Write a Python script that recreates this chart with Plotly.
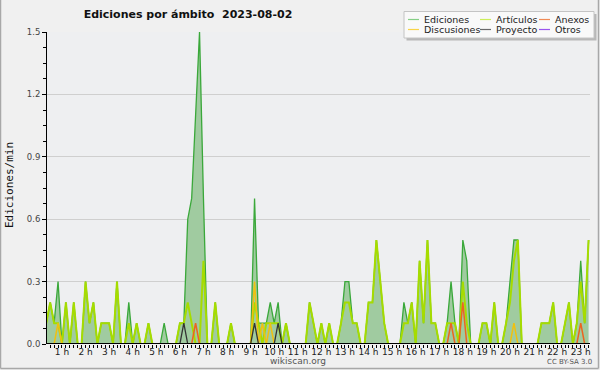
import plotly.graph_objects as go

# ---------------- data (edits per minute, 10-minute slots, 2023-08-02) ----------------
# visible slots: 00:20 ... 23:20
slot_minutes = list(range(20, 1401, 10))

ediciones = [
    0.1, 0.2, 0.1, 0.3, 0, 0.2, 0, 0.2, 0, 0,          # 00:20-01:50
    0.3, 0.1, 0.2, 0, 0.1, 0.1, 0.1, 0, 0.3, 0,        # 02:00-03:30
    0, 0.2, 0, 0.1, 0, 0, 0.1, 0, 0, 0,                # 03:40-05:10
    0.1, 0, 0, 0, 0.1, 0.1, 0.6, 0.7, 1.1, 1.5,        # 05:20-06:50
    0.7, 0, 0, 0.2, 0, 0, 0, 0.1, 0, 0,                # 07:00-08:30
    0, 0, 0, 0.7, 0.1, 0.1, 0.1, 0.2, 0.1, 0.2,        # 08:40-10:10
    0, 0.1, 0, 0, 0, 0, 0, 0.2, 0.1, 0,                # 10:20-11:50
    0.1, 0, 0.1, 0, 0, 0.1, 0.3, 0.3, 0.1, 0.1,        # 12:00-13:30
    0, 0, 0.2, 0.2, 0.5, 0.3, 0.1, 0, 0, 0,            # 13:40-15:10
    0, 0.2, 0.1, 0.2, 0, 0.4, 0.1, 0.5, 0.1, 0.1,      # 15:20-16:50
    0, 0, 0.1, 0.3, 0.1, 0, 0.5, 0.4, 0, 0,            # 17:00-18:30
    0, 0.1, 0.1, 0, 0.2, 0, 0, 0.1, 0.3, 0.5,          # 18:40-20:10
    0.5, 0, 0, 0, 0, 0, 0.1, 0.1, 0.1, 0.2,            # 20:20-21:50
    0, 0, 0.1, 0.2, 0, 0.1, 0.4, 0.1, 0.5,             # 22:00-23:20
]
articulos = [
    0.1, 0.2, 0.1, 0.1, 0, 0.2, 0, 0.2, 0, 0,
    0.3, 0.1, 0.2, 0, 0.1, 0.1, 0.1, 0, 0.3, 0,
    0, 0.1, 0, 0.1, 0, 0, 0.1, 0, 0, 0,
    0, 0, 0, 0, 0.1, 0.1, 0.2, 0.1, 0, 0,
    0.4, 0, 0, 0.2, 0, 0, 0, 0.1, 0, 0,
    0, 0, 0, 0.2, 0.1, 0, 0.1, 0.1, 0.1, 0.1,
    0, 0.1, 0, 0, 0, 0, 0, 0.2, 0.1, 0,
    0.1, 0, 0.1, 0, 0, 0.1, 0.2, 0.2, 0.1, 0.1,
    0, 0, 0.2, 0.2, 0.5, 0.3, 0.1, 0, 0, 0,
    0, 0.1, 0.1, 0.2, 0, 0.4, 0.1, 0.5, 0.1, 0.1,
    0, 0, 0.1, 0.1, 0.1, 0, 0.3, 0.1, 0, 0,
    0, 0.1, 0.1, 0, 0.2, 0, 0, 0.1, 0.2, 0.4,
    0.5, 0, 0, 0, 0, 0, 0.1, 0.1, 0.1, 0.2,
    0, 0, 0.1, 0.2, 0, 0.1, 0.3, 0.1, 0.5,
]
discusiones = [
    0, 0, 0, 0.1, 0, 0, 0, 0, 0, 0,
    0, 0, 0, 0, 0, 0, 0, 0, 0, 0,
    0, 0, 0, 0, 0, 0, 0, 0, 0, 0,
    0, 0, 0, 0, 0, 0, 0, 0, 0, 0,
    0, 0, 0, 0, 0, 0, 0, 0, 0, 0,
    0, 0, 0, 0.3, 0, 0.1, 0, 0.1, 0, 0,
    0, 0, 0, 0, 0, 0, 0, 0, 0, 0,
    0, 0, 0, 0, 0, 0, 0, 0, 0, 0,
    0, 0, 0, 0, 0, 0, 0, 0, 0, 0,
    0, 0, 0, 0, 0, 0, 0, 0, 0, 0,
    0, 0, 0, 0, 0, 0, 0, 0, 0, 0,
    0, 0, 0, 0, 0, 0, 0, 0, 0, 0.1,
    0, 0, 0, 0, 0, 0, 0, 0, 0, 0,
    0, 0, 0, 0, 0, 0, 0, 0, 0,
]
anexos = [
    0, 0, 0, 0, 0, 0, 0, 0, 0, 0,
    0, 0, 0, 0, 0, 0, 0, 0, 0, 0,
    0, 0, 0, 0, 0, 0, 0, 0, 0, 0,
    0, 0, 0, 0, 0, 0, 0, 0, 0.1, 0,
    0, 0, 0, 0, 0, 0, 0, 0, 0, 0,
    0, 0, 0, 0, 0, 0, 0, 0, 0, 0,
    0, 0, 0, 0, 0, 0, 0, 0, 0, 0,
    0, 0, 0, 0, 0, 0, 0, 0, 0, 0,
    0, 0, 0, 0, 0, 0, 0, 0, 0, 0,
    0, 0, 0, 0, 0, 0, 0, 0, 0, 0,
    0, 0, 0, 0.1, 0, 0, 0.2, 0, 0, 0,
    0, 0, 0, 0, 0, 0, 0, 0, 0, 0,
    0, 0, 0, 0, 0, 0, 0, 0, 0, 0,
    0, 0, 0, 0, 0, 0, 0.1, 0, 0,
]
proyecto = [
    0, 0, 0, 0, 0, 0, 0, 0, 0, 0,
    0, 0, 0, 0, 0, 0, 0, 0, 0, 0,
    0, 0, 0, 0, 0, 0, 0, 0, 0, 0,
    0, 0, 0, 0, 0, 0.1, 0, 0, 0, 0,
    0, 0, 0, 0, 0, 0, 0, 0, 0, 0,
    0, 0, 0, 0.1, 0, 0, 0, 0, 0, 0.1,
    0, 0, 0, 0, 0, 0, 0, 0, 0, 0,
    0, 0, 0, 0, 0, 0, 0, 0, 0, 0,
    0, 0, 0, 0, 0, 0, 0, 0, 0, 0,
    0, 0, 0, 0, 0, 0, 0, 0, 0, 0,
    0, 0, 0, 0, 0, 0, 0, 0, 0, 0,
    0, 0, 0, 0, 0, 0, 0, 0, 0, 0,
    0, 0, 0, 0, 0, 0, 0, 0, 0, 0,
    0, 0, 0, 0, 0, 0, 0, 0, 0,
]
otros = [
    0, 0, 0, 0, 0, 0, 0, 0, 0, 0,
    0, 0, 0, 0, 0, 0, 0, 0, 0, 0,
    0, 0, 0, 0, 0, 0, 0, 0, 0, 0,
    0, 0, 0, 0, 0, 0, 0, 0, 0, 0,
    0, 0, 0, 0, 0, 0, 0, 0, 0, 0,
    0, 0, 0, 0, 0, 0, 0, 0, 0, 0,
    0, 0, 0, 0, 0, 0, 0, 0, 0, 0,
    0, 0, 0, 0, 0, 0, 0, 0, 0, 0,
    0, 0, 0, 0, 0, 0, 0, 0, 0, 0,
    0, 0, 0, 0, 0, 0, 0, 0, 0, 0,
    0, 0, 0, 0, 0, 0, 0, 0, 0, 0,
    0, 0, 0, 0, 0, 0, 0, 0, 0, 0,
    0, 0, 0, 0, 0, 0, 0, 0, 0, 0,
    0, 0, 0, 0, 0, 0, 0, 0, 0,
]

hour_labels = ["1 h", "2 h", "3 h", "4 h", "5 h", "6 h", "7 h", "8 h", "9 h", "10 h",
               "11 h", "12 h", "13 h", "14 h", "15 h", "16 h", "17 h", "18 h", "19 h",
               "20 h", "21 h", "22 h", "23 h"]
y_tick_values = [0.0, 0.3, 0.6, 0.9, 1.2, 1.5]
y_tick_labels = ["0.0", "0.3", "0.6", "0.9", "1.2", "1.5"]

series_names = ["Ediciones", "Artículos", "Anexos", "Discusiones", "Proyecto", "Otros"]
series_colors = {"Ediciones": "#3aa83a", "Artículos": "#a6dc00", "Anexos": "#ec6420",
                 "Discusiones": "#f0c010", "Proyecto": "#333333", "Otros": "#8844dd"}
legend_colors = {"Ediciones": "#86cf86", "Artículos": "#cdee5a", "Anexos": "#f08a55",
                 "Discusiones": "#f8d448", "Proyecto": "#6a6a6a", "Otros": "#9a55ee"}

# ---------------- layout geometry ----------------
W, H = 600, 370
ML, MR, MT, MB = 47, 10, 32, 26
PW, PH = W - ML - MR, H - MT - MB


def px(x):
    return (x - ML) / PW


def py(y):
    return (H - MB - y) / PH


slot_hours = [m / 60 for m in slot_minutes]
tick_text = [hour_labels[m // 60 - 1] if m % 60 == 0 else "" for m in slot_minutes]

fig = go.Figure()
fig.add_trace(go.Scatter(x=slot_hours, y=ediciones, mode="lines", name="Ediciones",
                         line=dict(color=series_colors["Ediciones"], width=1.3),
                         fill="tozeroy", fillcolor="#a0cba0"))
fig.add_trace(go.Scatter(x=slot_hours, y=otros, mode="lines", name="Otros",
                         line=dict(color=series_colors["Otros"], width=1.3)))
fig.add_trace(go.Scatter(x=slot_hours, y=articulos, mode="lines", name="Artículos",
                         line=dict(color=series_colors["Artículos"], width=2)))
fig.add_trace(go.Scatter(x=slot_hours, y=discusiones, mode="lines", name="Discusiones",
                         line=dict(color=series_colors["Discusiones"], width=1.5)))
fig.add_trace(go.Scatter(x=slot_hours, y=anexos, mode="lines", name="Anexos",
                         line=dict(color=series_colors["Anexos"], width=1.5)))
fig.add_trace(go.Scatter(x=slot_hours, y=proyecto, mode="lines", name="Proyecto",
                         line=dict(color=series_colors["Proyecto"], width=1.3)))

shapes = [
    # x axis line at zero (covers zero-valued line segments)
    dict(type="line", xref="paper", yref="y", x0=0, x1=1, y0=0, y1=0,
         line=dict(color="black", width=2), layer="above"),
    # outer frame
    dict(type="line", xref="paper", yref="paper", x0=px(0.5), x1=px(0.5), y0=py(0), y1=py(368.5),
         line=dict(color="#a8a8a8", width=1.5), layer="above"),
    dict(type="line", xref="paper", yref="paper", x0=px(0.5), x1=px(598.5), y0=py(368.5), y1=py(368.5),
         line=dict(color="#a8a8a8", width=1.5), layer="above"),
    dict(type="line", xref="paper", yref="paper", x0=px(598.5), x1=px(598.5), y0=py(0), y1=py(368.5),
         line=dict(color="#a8a8a8", width=1.5), layer="above"),
    # legend shadow + box
    dict(type="rect", xref="paper", yref="paper", x0=px(406.5), x1=px(596.5), y0=py(14), y1=py(40.5),
         fillcolor="#b8b8b8", line=dict(width=0), layer="above"),
    dict(type="rect", xref="paper", yref="paper", x0=px(404), x1=px(594), y0=py(11.5), y1=py(38),
         fillcolor="#f9f9f9", line=dict(color="#c4c4c4", width=1), layer="above"),
]

annotations = [
    dict(text="Ediciones/min", xref="paper", yref="paper", x=px(9), y=py(185),
         textangle=-90, showarrow=False, xanchor="center", yanchor="middle",
         font=dict(family="DejaVu Sans Mono", size=11, color="#111")),
    dict(text="wikiscan.org", xref="paper", yref="paper", x=px(298), y=py(360.5),
         showarrow=False, xanchor="center", yanchor="middle",
         font=dict(family="DejaVu Sans", size=9, color="#555")),
    dict(text="CC BY-SA 3.0", xref="paper", yref="paper", x=px(569), y=py(362),
         showarrow=False, xanchor="center", yanchor="middle",
         font=dict(family="DejaVu Sans", size=7, color="#555")),
]

legend_pos = {"Ediciones": (408, 19.5), "Artículos": (480, 19.5), "Anexos": (539, 19.5),
              "Discusiones": (408, 29.5), "Proyecto": (480, 29.5), "Otros": (539, 29.5)}
for name in series_names:
    lx, ly = legend_pos[name]
    shapes.append(dict(type="line", xref="paper", yref="paper", x0=px(lx), x1=px(lx + 11),
                       y0=py(ly), y1=py(ly), line=dict(color=legend_colors[name], width=1.2),
                       layer="above"))
    annotations.append(dict(text=name, xref="paper", yref="paper", x=px(lx + 14), y=py(ly),
                            showarrow=False, xanchor="left", yanchor="middle",
                            font=dict(family="DejaVu Sans", size=9.5, color="#222")))

fig.update_layout(
    width=W, height=H,
    margin=dict(l=ML, r=MR, t=MT, b=MB, pad=0),
    paper_bgcolor="#f0f0f0", plot_bgcolor="#eeeff1",
    showlegend=False,
    title=dict(text="<b>Ediciones por ámbito\u00a0\u00a02023-08-02</b>", x=188 / W, xanchor="center",
               y=1 - 14 / H, yanchor="middle",
               font=dict(family="DejaVu Sans", size=11, color="#111")),
    xaxis=dict(range=[0.3647, 23.393], tickvals=slot_hours, ticktext=tick_text,
               ticks="outside", ticklen=3, tickcolor="black", tickwidth=1,
               ticklabelstandoff=-4,
               showgrid=False, zeroline=False, showline=False,
               tickfont=dict(family="DejaVu Sans", size=9, color="#222")),
    yaxis=dict(range=[0, 1.5], tickvals=y_tick_values, ticktext=y_tick_labels,
               ticks="outside", ticklen=4, tickcolor="black", tickwidth=1,
               showline=True, linecolor="black", linewidth=1,
               showgrid=True, gridcolor="#cfcfcf", gridwidth=1, zeroline=False,
               minor=dict(dtick=0.075, ticks="outside", ticklen=3, tickcolor="black", showgrid=False),
               tickfont=dict(family="DejaVu Sans", size=8.5, color="#444")),
    shapes=shapes, annotations=annotations,
)

fig.write_html("out.html", config={"displayModeBar": False},
               post_script="document.body.style.margin='0px';document.body.style.overflow='hidden';")
